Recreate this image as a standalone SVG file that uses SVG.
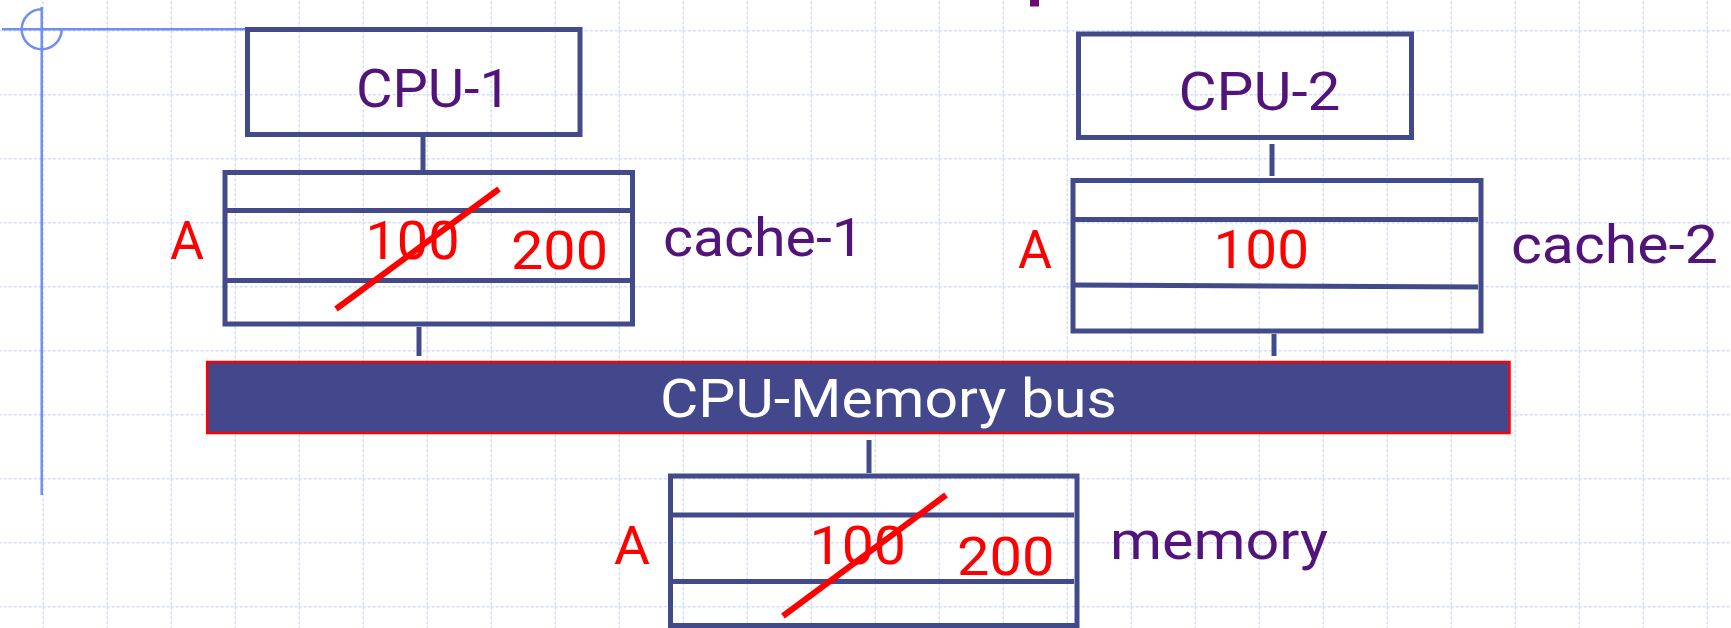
<svg xmlns="http://www.w3.org/2000/svg" width="1731" height="628" viewBox="0 0 1731 628">
  <defs>
    <pattern id="grid" patternUnits="userSpaceOnUse" x="42.7" y="30.3" width="64" height="64">
      <line x1="0" y1="0" x2="64" y2="0" stroke="#bfcdf6" stroke-width="2" stroke-dasharray="3,2"/>
      <line x1="0" y1="0" x2="0" y2="64" stroke="#bfcdf6" stroke-width="2" stroke-dasharray="3,2"/>
    </pattern>
    <style>
      .box { fill: none; stroke: #434a8c; stroke-width: 5; }
      .sep { stroke: #434a8c; stroke-width: 5; }
      .conn { stroke: #434a8c; stroke-width: 5; }
      .strike { stroke: #ff0000; stroke-width: 6; }
      .lbl { font-family: Roboto, "DejaVu Sans", sans-serif; font-size: 54px; fill: #52147a; }
      .val { font-family: Roboto, "DejaVu Sans", sans-serif; font-size: 54px; fill: #ff0000; }
      .bus { font-family: Roboto, "DejaVu Sans", sans-serif; font-size: 54px; fill: #ffffff; }
      .guide { fill: none; stroke: #6f8ff0; stroke-width: 2.5; }
    </style>
  </defs>
  <rect x="0" y="0" width="1731" height="628" fill="#ffffff"/>
  <rect x="0" y="0" width="1731" height="628" fill="url(#grid)"/>

  <g id="guide">
    <line class="guide" x1="41.7" y1="7" x2="41.7" y2="495"/>
    <line class="guide" x1="2" y1="29.3" x2="245" y2="29.3"/>
    <path class="guide" d="M 41.7 9.3 A 20 20 0 1 0 61.7 29.3"/>
    <rect x="1030" y="0" width="9" height="6.5" fill="#6a0a6a"/>
  </g>

  <g id="connectors">
    <line class="conn" x1="423" y1="137" x2="423" y2="170"/>
    <line class="conn" x1="1272" y1="144" x2="1272" y2="176"/>
    <line class="conn" x1="419" y1="327" x2="419" y2="356"/>
    <line class="conn" x1="1274" y1="334" x2="1274" y2="356"/>
    <line class="conn" x1="869" y1="440" x2="869" y2="473"/>
  </g>

  <g id="cpu1">
    <rect class="box" x="247.5" y="29.5" width="332.5" height="105"/>
    <text class="lbl" x="356" y="107" textLength="155" lengthAdjust="spacingAndGlyphs">CPU-1</text>
  </g>

  <g id="cpu2">
    <rect class="box" x="1078.5" y="34" width="333" height="103.5"/>
    <text class="lbl" x="1178.5" y="110" textLength="162" lengthAdjust="spacingAndGlyphs">CPU-2</text>
  </g>

  <g id="cache1">
    <rect class="box" x="225" y="172.5" width="407.5" height="151.5"/>
    <line class="sep" x1="225" y1="210.5" x2="630" y2="210.5"/>
    <line class="sep" x1="227" y1="280.5" x2="630" y2="280.5"/>
    <text class="val" x="170" y="259" textLength="34" lengthAdjust="spacingAndGlyphs">A</text>
    <text class="val" x="365.5" y="259" textLength="94" lengthAdjust="spacingAndGlyphs">100</text>
    <text class="val" x="511" y="269" textLength="97" lengthAdjust="spacingAndGlyphs">200</text>
    <line class="strike" x1="336" y1="309" x2="499" y2="189"/>
    <text class="lbl" x="663" y="256" textLength="201" lengthAdjust="spacingAndGlyphs">cache-1</text>
  </g>

  <g id="cache2">
    <rect class="box" x="1073" y="180.5" width="408" height="150.5"/>
    <line class="sep" x1="1073" y1="219.5" x2="1478" y2="219.5"/>
    <line class="sep" x1="1073" y1="285" x2="1478" y2="287"/>
    <text class="val" x="1018" y="268" textLength="34" lengthAdjust="spacingAndGlyphs">A</text>
    <text class="val" x="1213.5" y="268" textLength="95.5" lengthAdjust="spacingAndGlyphs">100</text>
    <text class="lbl" x="1511" y="263" textLength="207" lengthAdjust="spacingAndGlyphs">cache-2</text>
  </g>

  <g id="bus">
    <rect x="207.2" y="362" width="1302.3" height="71" fill="#43478b" stroke="#ff0000" stroke-width="2.5"/>
    <text class="bus" x="660" y="417" textLength="457" lengthAdjust="spacingAndGlyphs">CPU-Memory bus</text>
  </g>

  <g id="memory">
    <rect class="box" x="670.5" y="476" width="406.5" height="149.5"/>
    <line class="sep" x1="670.5" y1="515" x2="1074" y2="515"/>
    <line class="sep" x1="670.5" y1="581.5" x2="1074" y2="581.5"/>
    <text class="val" x="614" y="564" textLength="36" lengthAdjust="spacingAndGlyphs">A</text>
    <text class="val" x="809.5" y="564" textLength="96.5" lengthAdjust="spacingAndGlyphs">100</text>
    <text class="val" x="957" y="575" textLength="97.5" lengthAdjust="spacingAndGlyphs">200</text>
    <line class="strike" x1="783" y1="616" x2="946" y2="495"/>
    <text class="lbl" x="1110" y="559" textLength="218" lengthAdjust="spacingAndGlyphs">memory</text>
  </g>
</svg>
